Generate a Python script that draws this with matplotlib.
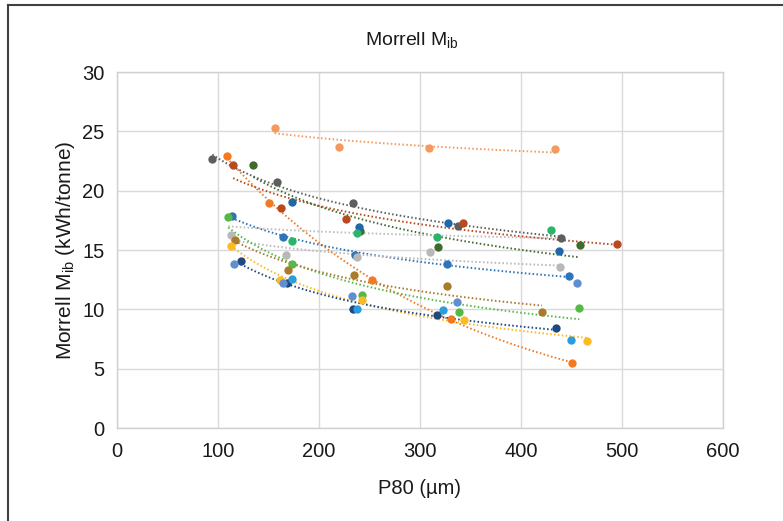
import numpy as np
import matplotlib
matplotlib.use("Agg")
import matplotlib.pyplot as plt
from matplotlib.lines import Line2D

plt.rcParams['font.family'] = ['Liberation Sans', 'DejaVu Sans']
plt.rcParams['mathtext.default'] = 'regular'

# ---- data (P80 in µm, Morrell Mib in kWh/tonne) ----
light_orange_x = [156, 220, 309, 434]
light_orange_y = [25.3, 23.7, 23.6, 23.5]
orange_x = [109, 150, 252.5, 331, 450.5]
orange_y = [22.9, 19.0, 12.5, 9.2, 5.5]
dark_gray_x = [94.4, 158.7, 233.3, 337.6, 439.6]
dark_gray_y = [22.7, 20.7, 19.0, 17.0, 16.0]
brown_red_x = [115, 162.4, 226.4, 342.2, 494.7]
brown_red_y = [22.2, 18.5, 17.6, 17.3, 15.5]
dark_green_x = [135, 240.9, 318, 458]
dark_green_y = [22.2, 16.6, 15.25, 15.4]
blue_a_x = [113.5, 164.7, 235.6, 326.4, 447.8]
blue_a_y = [17.9, 16.1, 14.6, 13.8, 12.8]
blue_b_x = [173.6, 240, 327.4, 437.6]
blue_b_y = [19.07, 16.9, 17.3, 14.9]
teal_x = [173, 237.3, 316.5, 429.4]
teal_y = [15.75, 16.4, 16.1, 16.7]
light_gray_x = [113.2, 167.3, 237.3, 310, 438.6]
light_gray_y = [16.26, 14.57, 14.43, 14.8, 13.54]
light_green_x = [110.2, 173.3, 242.6, 338.6, 457.7]
light_green_y = [17.8, 13.8, 11.2, 9.74, 10.1]
olive_x = [116.5, 169.6, 234.7, 326.4, 420.8]
olive_y = [15.84, 13.3, 12.89, 12.0, 9.74]
yellow_x = [113.2, 161.4, 242.6, 343.6, 465.6]
yellow_y = [15.36, 12.47, 10.8, 9.1, 7.36]
navy_x = [122.4, 168.6, 233.7, 316.8, 434.4]
navy_y = [14.1, 12.24, 10.0, 9.49, 8.45]
light_blue_x = [115.5, 164.7, 232.4, 336.6, 455.4]
light_blue_y = [13.8, 12.24, 11.15, 10.64, 12.19]
cyan_x = [173.3, 237.6, 322.5, 449.5]
cyan_y = [12.55, 10.0, 9.91, 7.41]
pale_trend_x = [110, 438]
pale_trend_y = [17.0, 16.0]

x_ticks = [0, 100, 200, 300, 400, 500, 600]
y_ticks = [0, 5, 10, 15, 20, 25, 30]

# (x, y, colour, show markers, trendline type: 'pow', 'exp' or None)
series = [
    (light_orange_x, light_orange_y, '#F59A5E', True, 'pow'),
    (orange_x, orange_y, '#F47A22', True, 'exp'),
    (dark_gray_x, dark_gray_y, '#5E5E5E', True, 'pow'),
    (brown_red_x, brown_red_y, '#B84A1F', True, 'pow'),
    (dark_green_x, dark_green_y, '#3F6C2D', True, 'pow'),
    (blue_a_x, blue_a_y, '#2E74BA', True, 'pow'),
    (blue_b_x, blue_b_y, '#1E68AA', True, None),
    (teal_x, teal_y, '#2AB46C', True, None),
    (pale_trend_x, pale_trend_y, '#BDBDBD', False, 'pow'),
    (light_gray_x, light_gray_y, '#B8B8B8', True, 'pow'),
    (light_green_x, light_green_y, '#56B947', True, 'pow'),
    (olive_x, olive_y, '#A97B2D', True, 'pow'),
    (yellow_x, yellow_y, '#FDBB22', True, 'pow'),
    (navy_x, navy_y, '#1D4B7F', True, 'pow'),
    (light_blue_x, light_blue_y, '#5F8FD0', True, None),
    (cyan_x, cyan_y, '#2C9CDA', True, None),
]

fig = plt.figure(figsize=(7.83, 5.21), dpi=100)
ax = fig.add_axes([117/783, 1-428/521, (723-117)/783, (428-72)/521])

for xs, ys, col, show_pts, trend in series:
    xs = np.asarray(xs, float); ys = np.asarray(ys, float)
    if trend is not None:
        tx = np.linspace(xs.min(), xs.max(), 100)
        if trend == 'exp':
            b, a = np.polyfit(xs, np.log(ys), 1)
            ty = np.exp(a + b * tx)
        else:
            b, a = np.polyfit(np.log(xs), np.log(ys), 1)
            ty = np.exp(a) * tx ** b
        ax.plot(tx, ty, color=col, lw=1.4, linestyle=(0, (0.8, 1.2)), zorder=2)
    if show_pts:
        ax.plot(xs, ys, 'o', color=col, ms=6, mec='none', zorder=3)

ax.set_xlim(0, 600)
ax.set_ylim(0, 30)
ax.set_xticks(x_ticks)
ax.set_yticks(y_ticks)
ax.tick_params(length=0, labelsize=14.5, colors='#1a1a1a')
ax.tick_params(axis='x', pad=10)
ax.tick_params(axis='y', pad=9)
ax.grid(True, color='#D9D9D9', lw=1)
ax.set_axisbelow(True)
for s in ax.spines.values():
    s.set_color('#D0D0D0')
    s.set_linewidth(1)

ax.set_xlabel('P80 (µm)', fontsize=14.5, color='#1a1a1a', labelpad=13)
ax.set_ylabel('Morrell M$_{ib}$ (kWh/tonne)', fontsize=15, color='#1a1a1a', labelpad=4)
fig.text(412/783, 1-40/521, 'Morrell M$_{ib}$', ha='center', va='center',
         fontsize=14, color='#1a1a1a')

# outer frame (left and top edges)
fig.add_artist(Line2D([8/783, 8/783], [0, 1-5/521], color='#404040', lw=1.5,
                      transform=fig.transFigure))
fig.add_artist(Line2D([8/783, 1], [1-5/521, 1-5/521], color='#404040', lw=1.5,
                      transform=fig.transFigure))

fig.savefig('out.png', dpi=100)
